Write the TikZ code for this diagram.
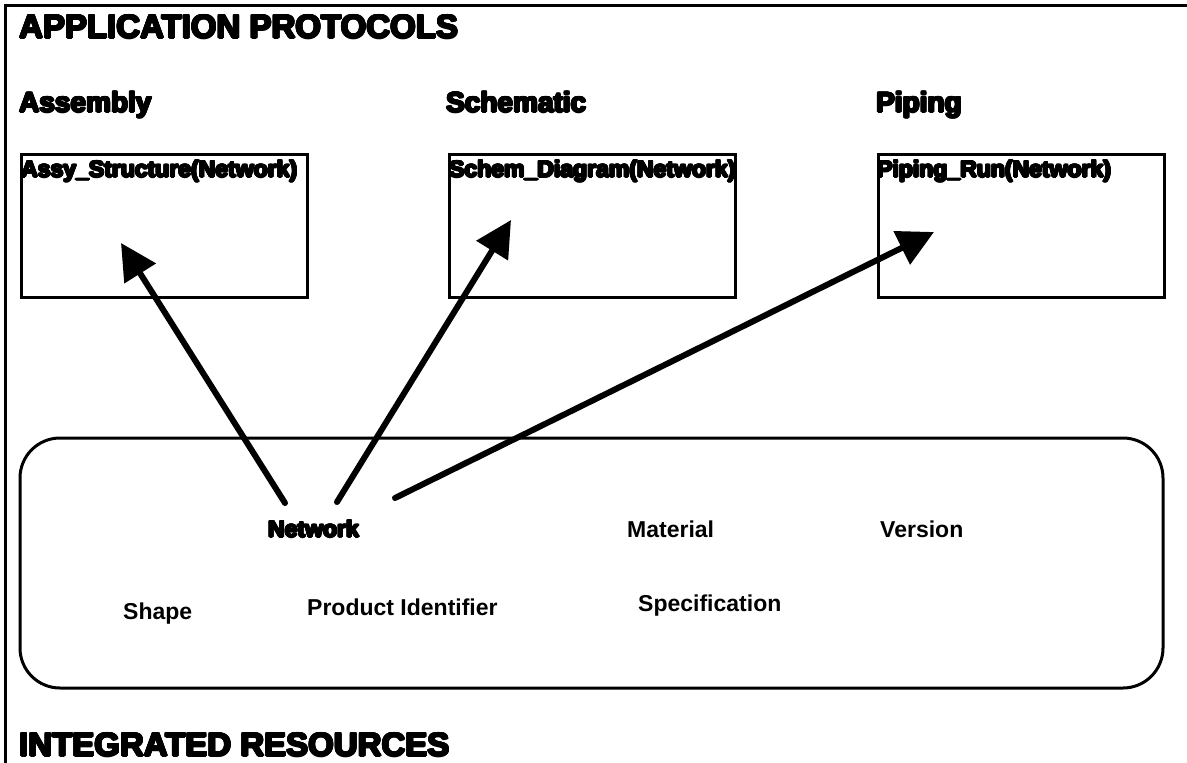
\documentclass[tikz,border=0pt]{standalone}
\usepackage{fontspec}
\setmainfont{Liberation Sans}
\usepackage{contour}
\contourlength{1pt}
\newcommand{\heavy}[1]{\contour{black}{#1}}
\usetikzlibrary{arrows.meta}

\begin{document}
\begin{tikzpicture}[x=1pt, y=-1pt, >={Triangle[length=36pt,width=36pt]},
    head/.style={font=\fontsize{33}{36}\selectfont\bfseries, anchor=base west, inner sep=0pt},
    subhead/.style={font=\fontsize{28}{32}\selectfont\bfseries, anchor=base west, inner sep=0pt},
    lbl/.style={font=\fontsize{23}{26}\selectfont\bfseries, anchor=base west, inner sep=0pt},
    apbox/.style={draw, line width=3pt, anchor=north west, minimum width=286pt, minimum height=143pt, inner sep=0pt},
    link/.style={->, line width=6pt, line cap=round}]
        \useasboundingbox (0,0) rectangle (1187,763);

        % frame
        \draw[line width=3pt] (5,763) -- (5,5) -- (1187,5);

        \node[head] (apHead) at (19,38) {\heavy{APPLICATION PROTOCOLS}};
        \node[head] (irHead) at (19,756) {\heavy{INTEGRATED RESOURCES}};

        \node[subhead] (assyHead) at (19,112) {\heavy{Assembly}};
        \node[subhead] (schemHead) at (446,112) {\heavy{Schematic}};
        \node[subhead] (pipeHead) at (876,112) {\heavy{Piping}};

        % application protocol boxes
        \node[apbox] (assy) at (20,153) {};
        \node[apbox] (schem) at (448,153) {};
        \node[apbox] (pipe) at (877,153) {};

        \node[lbl] (assyTitle) at (21,177) {\heavy{Assy\_Structure(Network)}};
        \node[lbl] (schemTitle) at (449,177) {\heavy{Schem\_Diagram(Network)}};
        \node[lbl] (pipeTitle) at (877,177) {\heavy{Piping\_Run(Network)}};

        % integrated resources
        \draw[line width=3pt, rounded corners=40pt] (20,438) rectangle (1163,688);

        \node[lbl] (net) at (268,537) {\heavy{Network}};
        \node[lbl] (mat) at (627,537) {Material};
        \node[lbl] (ver) at (880,537) {Version};
        \node[lbl] (shape) at (123,619) {Shape};
        \node[lbl] (prodId) at (307,615) {Product Identifier};
        \node[lbl] (spec) at (638,611) {Specification};

        \coordinate (netA) at (285,503);
        \coordinate (netB) at (337,502);
        \coordinate (netC) at (395,498);
        \coordinate (assyTip) at (121,243);
        \coordinate (schemTip) at (511,220);
        \coordinate (pipeTip) at (934,232);

        \draw[link] (netA) -- (assyTip);
        \draw[link] (netB) -- (schemTip);
        \draw[link] (netC) -- (pipeTip);

    \end{tikzpicture}
\end{document}
